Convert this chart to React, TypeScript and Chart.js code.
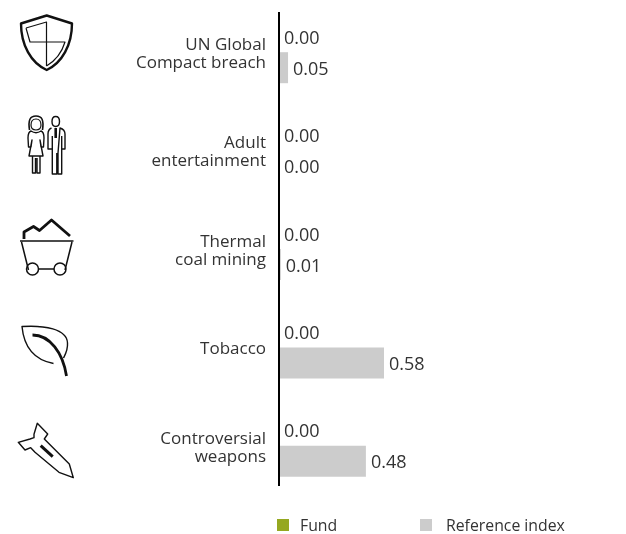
import React, { useEffect, useRef } from "react";
import { Chart, registerables } from "chart.js";

Chart.register(...registerables);

const categories = [
  ["UN Global", "Compact breach"],
  ["Adult", "entertainment"],
  ["Thermal", "coal mining"],
  ["Tobacco"],
  ["Controversial", "weapons"],
];
const fundValues = [0, 0, 0, 0, 0];
const referenceValues = [0.05, 0, 0.01, 0.58, 0.48];
const seriesNames = ["Fund", "Reference index"];
const FONT = '"Open Sans", "Noto Sans", sans-serif';

const iconStrokes: [string, number][] = [
  ["M46.7 15.5 L72 23.5 C72 45 62 63 46.7 70 C31 63 21 45 21 23.5 Z", 2.4],
  ["M26 28 L46.5 22 L46.5 66 M46.5 42 L30 42 L26 28 M46.5 42 L65 42 C62 52 55 61 46.5 66", 1.2],
  ["M29.5 130 C28 120 30 116 36 116 C42 116 44 120 42.5 130", 1.6],
  ["M36 119 C32 119 31 122 31 125 C31 128 33 130 36 130 C39 130 41 128 41 125 C41 122 40 119 36 119 Z", 1.2],
  ["M31 131 C28.5 132 28 135 28 138 L28.5 147 L31 147 L32 140 L29 156 L43 156 L40 140 L41 147 L43.5 147 L44 138 C44 135 43.5 132 41 131 C38 133 34 133 31 131 Z M32.5 156 L32.5 173 L35.5 173 L35.5 158 M37 158 L37 173 L40 173 L40 156", 1.4],
  ["M55.7 116.5 C53 116.5 52 119 52 121.5 C52 124 53 126.5 55.7 126.5 C58.4 126.5 59.5 124 59.5 121.5 C59.5 119 58.4 116.5 55.7 116.5 Z", 1.4],
  ["M51.5 128 C49 129 48 131 48 134 L48 149 L51 149 L52.3 149 L52.3 174 L56.8 174 L56.8 153 M58 153 L58 174 L61.7 174 L61.7 149 L65 149 L65 134 C65 131 63 129 60 128 Z M52.3 136 L52.3 149 M61.7 136 L61.7 149", 1.4],
  ["M55.7 128 L55.7 138", 2.6],
  ["M20 241 L73.5 241 M21.5 242 L28.5 270 M72 242 L65 270 M38.5 269 L54 269", 1.5],
  ["M38.5 269 A6 6 0 1 0 26.5 269 A6 6 0 1 0 38.5 269 M66 269 A6 6 0 1 0 54 269 A6 6 0 1 0 66 269", 1.5],
  ["M24 239 L24 232 L33.5 226.5 L39.5 230.5 L51.5 220 L70 236", 2.8],
  ["M53.5 363.5 C35 360 24 348 22 326.5 C44 325 67 329 67.5 343 C68 350 65 355 63.5 358", 1.4],
  ["M32.5 335 C50 335 63 353 66.5 376", 2.8],
  ["M73.3 477.7 L59 472.3 L35 452.3 L30.7 447.7 L25 450 L18.3 442.3 L30 439 L34 437.7 L34 434.3 L37.3 423.3 L47.7 434 L44.3 439 L69.3 464 Z", 1.4],
  ["M40.7 445.7 L52.7 456.7", 3],
];

const App = () => {
  const ref = useRef<HTMLCanvasElement>(null);
  useEffect(() => {
    const overlay = {
      id: "overlay",
      afterDatasetsDraw(chart: any) {
        const { ctx, chartArea } = chart;
        ctx.save();
        ctx.strokeStyle = "#000";
        ctx.lineWidth = 2;
        ctx.beginPath();
        ctx.moveTo(chartArea.left, chartArea.top + 9);
        ctx.lineTo(chartArea.left, chartArea.bottom - 9);
        ctx.stroke();

        ctx.font = `18px ${FONT}`;
        ctx.fillStyle = "#333";
        ctx.textAlign = "left";
        ctx.textBaseline = "middle";
        chart.data.datasets.forEach((ds: any, i: number) => {
          chart.getDatasetMeta(i).data.forEach((bar: any, j: number) => {
            ctx.fillText(ds.data[j].toFixed(2), bar.x + 5, bar.y + 2);
          });
        });

        ctx.lineJoin = "round";
        ctx.lineCap = "butt";
        ctx.strokeStyle = "#111";
        iconStrokes.forEach(([d, w]) => {
          ctx.lineWidth = w;
          ctx.stroke(new Path2D(d));
        });

        const legendX = [277, 420];
        ctx.font = `15.8px ${FONT}`;
        chart.data.datasets.forEach((ds: any, i: number) => {
          ctx.fillStyle = ds.backgroundColor;
          ctx.fillRect(legendX[i], 519, 12, 12);
          ctx.fillStyle = "#333";
          ctx.fillText(ds.label, legendX[i] + (i === 0 ? 23 : 26), 526);
        });
        ctx.restore();
      },
    };
    const chart = new Chart(ref.current!, {
      type: "bar",
      data: {
        labels: categories,
        datasets: [
          { label: seriesNames[0], data: fundValues, backgroundColor: "#95A820", categoryPercentage: 0.63, barPercentage: 1 },
          { label: seriesNames[1], data: referenceValues, backgroundColor: "#CCCCCC", categoryPercentage: 0.63, barPercentage: 1 },
        ],
      },
      options: {
        indexAxis: "y",
        animation: false,
        responsive: false,
        devicePixelRatio: 1,
        layout: { padding: { top: 3, bottom: 39, right: 3, left: 0 } },
        plugins: { legend: { display: false }, tooltip: { enabled: false } },
        scales: {
          x: { display: false, min: 0, max: 1.9 },
          y: {
            afterFit(scale: any) {
              scale.width = 279;
              scale.paddingTop = 0;
              scale.paddingBottom = 0;
            },
            grid: { display: false },
            border: { display: false },
            ticks: {
              padding: 5,
              labelOffset: 2,
              color: "#333",
              font: { family: FONT, size: 17, lineHeight: 1.06 },
            },
          },
        },
      },
      plugins: [overlay],
    } as any);
    return () => chart.destroy();
  }, []);
  return (
    <div style={{ position: "absolute", left: 0, top: 0, width: 626, height: 534, background: "#fff" }}>
      <canvas ref={ref} width={626} height={534} style={{ display: "block" }} />
    </div>
  );
};

export default App;
